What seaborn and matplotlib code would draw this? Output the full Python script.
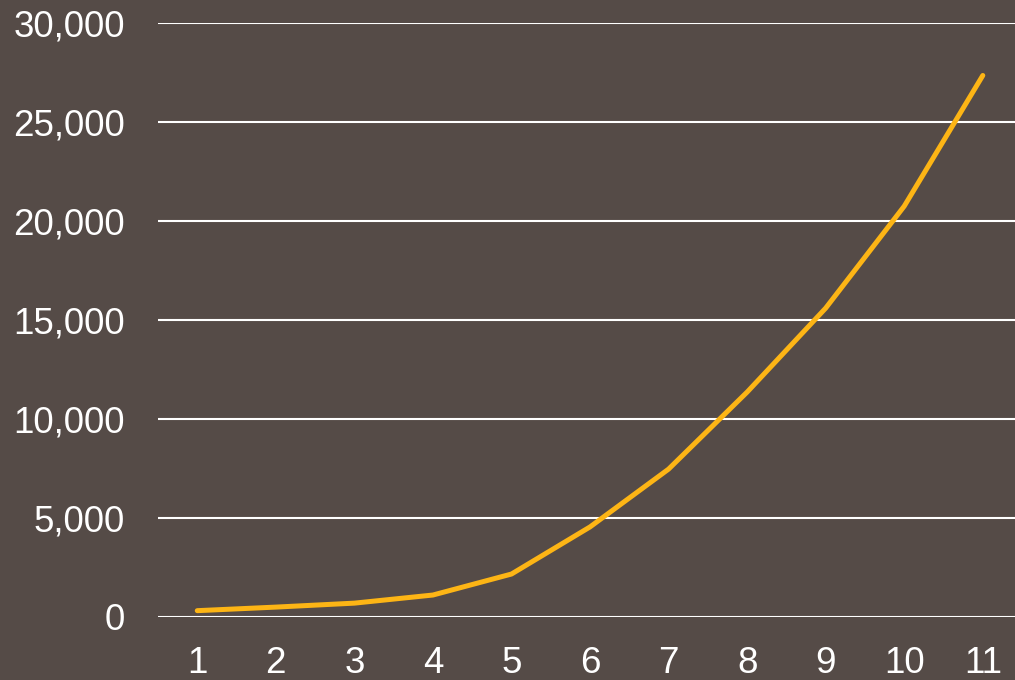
import matplotlib

matplotlib.use("Agg")
import matplotlib.pyplot as plt
import pandas as pd
import seaborn as sns
from matplotlib.ticker import FuncFormatter

# Values
periods = [1, 2, 3, 4, 5, 6, 7, 8, 9, 10, 11]
values = [320, 500, 700, 1110, 2170, 4550, 7470, 11360, 15600, 20750, 27350]
y_ticks = [0, 5000, 10000, 15000, 20000, 25000, 30000]

BG = "#554B47"
LINE = "#FDB515"

frame = pd.DataFrame({"period": periods, "value": values})

sns.set_theme(style="white")
plt.rcParams["font.family"] = ["Liberation Sans", "DejaVu Sans"]

fig = plt.figure(figsize=(10.15, 6.8), dpi=100, facecolor=BG)
ax = fig.add_axes([158 / 1015, 1 - 617 / 680, 1 - 158 / 1015, (617 - 23) / 680])
ax.set_facecolor(BG)

sns.lineplot(data=frame, x="period", y="value", color=LINE, linewidth=3.6,
             solid_capstyle="round", ax=ax)

ax.set_xlim(0.5, 11.41)
ax.set_ylim(0, 30000)
ax.set_xticks(periods)
ax.set_yticks(y_ticks)
ax.yaxis.set_major_formatter(FuncFormatter(lambda v, _: f"{int(v):,}"))
ax.grid(axis="y", color="white", linewidth=1.5)
ax.set_axisbelow(True)
for spine in ax.spines.values():
    spine.set_visible(False)
ax.tick_params(axis="both", length=0, labelsize=26.5, labelcolor="white")
ax.tick_params(axis="y", pad=24)
ax.tick_params(axis="x", pad=21)
ax.set(xlabel="", ylabel="")

fig.savefig("out.png", dpi=100, facecolor=BG)
